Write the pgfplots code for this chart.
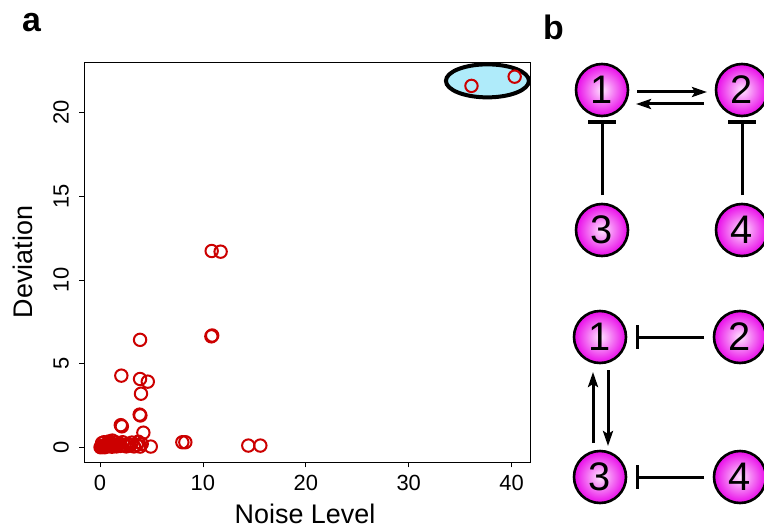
\documentclass[border=0pt]{standalone}
\usepackage{fontspec}
\setmainfont{Liberation Sans}
\usepackage{pgfplots}
\usepackage{pgfplotstable}
\pgfplotsset{compat=1.18}
\usetikzlibrary{arrows.meta}

\definecolor{ptred}{RGB}{204,0,0}
\definecolor{ellfill}{RGB}{175,235,250}
\definecolor{ballmag}{RGB}{232,0,232}
\definecolor{ballmid}{RGB}{244,120,244}
\definecolor{ballhi}{RGB}{255,228,255}
\pgfdeclareradialshading{ballshade}{\pgfpoint{0bp}{0bp}}{%
  color(0bp)=(ballhi); color(12bp)=(ballmid); color(26bp)=(ballmag); color(50bp)=(ballmag)}

% noise level vs deviation
\pgfplotstableread{
x y
36.10 21.60
40.30 22.15
10.85 11.73
11.72 11.69
10.82 6.63
10.90 6.68
3.89 6.42
2.07 4.28
3.89 4.08
4.64 3.92
3.98 3.20
3.85 1.95
3.92 1.90
2.02 1.32
2.12 1.25
4.21 0.87
4.93 0.04
8.00 0.30
8.29 0.30
14.41 0.10
15.58 0.10
0.05 0.00
0.15 0.05
0.25 0.02
0.35 0.10
0.45 0.00
0.55 0.15
0.65 0.05
0.75 0.20
0.85 0.08
0.95 0.12
1.05 0.25
1.15 0.03
1.25 0.18
1.35 0.10
1.50 0.30
1.60 0.05
1.75 0.15
1.90 0.22
2.00 0.08
2.20 0.30
2.35 0.12
2.55 0.05
2.70 0.20
2.90 0.10
3.10 0.28
3.30 0.05
3.56 0.14
3.72 0.33
3.89 0.04
4.05 0.20
0.40 0.30
0.90 0.35
1.20 0.40
0.20 0.25
}\pts

\tikzset{
  ball/.style={circle, draw=black, line width=2.6bp, minimum size=52bp, inner sep=0pt,
    shading=ballshade, font=\fontsize{40}{40}\selectfont},
  edge/.style={line width=3bp},
  act/.style={line width=3bp, -{Stealth[length=15bp, width=10bp, inset=3bp]}},
}

\begin{document}
\begin{tikzpicture}
\useasboundingbox (0,0) rectangle (764bp,531bp);

% panel a
\begin{axis}[
  at={(84.3bp,68.7bp)}, anchor=south west,
  scale only axis, width=445.7bp, height=400bp,
  xmin=-1.53, xmax=41.79, ymin=-0.9, ymax=23.01,
  xtick={0,10,20,30,40}, ytick={0,5,10,15,20},
  tick align=outside, tick pos=left, major tick length=5bp,
  axis line style={line width=0.8bp},
  every tick/.style={black, line width=0.8bp},
  /pgf/number format/assume math mode=true,
  ticklabel style={font=\fontsize{22}{24}\selectfont},
  yticklabel style={rotate=90, anchor=south},
  xticklabel shift=4bp, yticklabel shift=7bp,
  clip=false,
]
\draw[line width=4bp, fill=ellfill] (axis cs:37.65,21.9) ellipse [x radius=41.5bp, y radius=16.5bp];
\addplot[only marks, mark=o, mark size=6.2bp, color=ptred,
  mark options={line width=2bp}] table {\pts};
\end{axis}

% axis titles, panel labels and network diagrams (pixel frame)
\begin{axis}[
  at={(0bp,0bp)}, anchor=south west,
  scale only axis, width=764bp, height=531bp,
  xmin=0, xmax=764, ymin=0, ymax=531, y dir=reverse,
  hide axis, clip=false,
]
\node[anchor=base, inner sep=0pt, font=\fontsize{27}{27}\selectfont] at (axis cs:305,523) {Noise Level};
\node[anchor=base, rotate=90, font=\fontsize{27}{27}\selectfont] at (axis cs:32,262) {Deviation};
\node[font=\bfseries\fontsize{34}{34}\selectfont] at (axis cs:31.5,23) {a};
\node[font=\bfseries\fontsize{34}{34}\selectfont] at (axis cs:553.5,27) {b};

% top network
\draw[act] (axis cs:637,92) -- (axis cs:707,92);
\draw[act] (axis cs:704,104) -- (axis cs:636,104);
\draw[edge] (axis cs:602,195) -- (axis cs:602,122);
\draw[edge] (axis cs:588,122) -- (axis cs:616,122);
\draw[edge] (axis cs:742,195) -- (axis cs:742,122);
\draw[edge] (axis cs:728,122) -- (axis cs:756,122);
\node[ball] at (axis cs:602,90) {1};
\node[ball] at (axis cs:742,90) {2};
\node[ball] at (axis cs:602,230) {3};
\node[ball] at (axis cs:742,230) {4};

% bottom network
\draw[edge] (axis cs:704,337) -- (axis cs:637,337);
\draw[edge] (axis cs:637,325) -- (axis cs:637,349);
\draw[edge] (axis cs:704,477) -- (axis cs:637,477);
\draw[edge] (axis cs:637,465) -- (axis cs:637,489);
\draw[act] (axis cs:593,443) -- (axis cs:593,372);
\draw[act] (axis cs:608,370) -- (axis cs:608,446);
\node[ball] at (axis cs:600,337) {1};
\node[ball] at (axis cs:740,337) {2};
\node[ball] at (axis cs:600,477) {3};
\node[ball] at (axis cs:740,477) {4};
\end{axis}
\end{tikzpicture}
\end{document}
